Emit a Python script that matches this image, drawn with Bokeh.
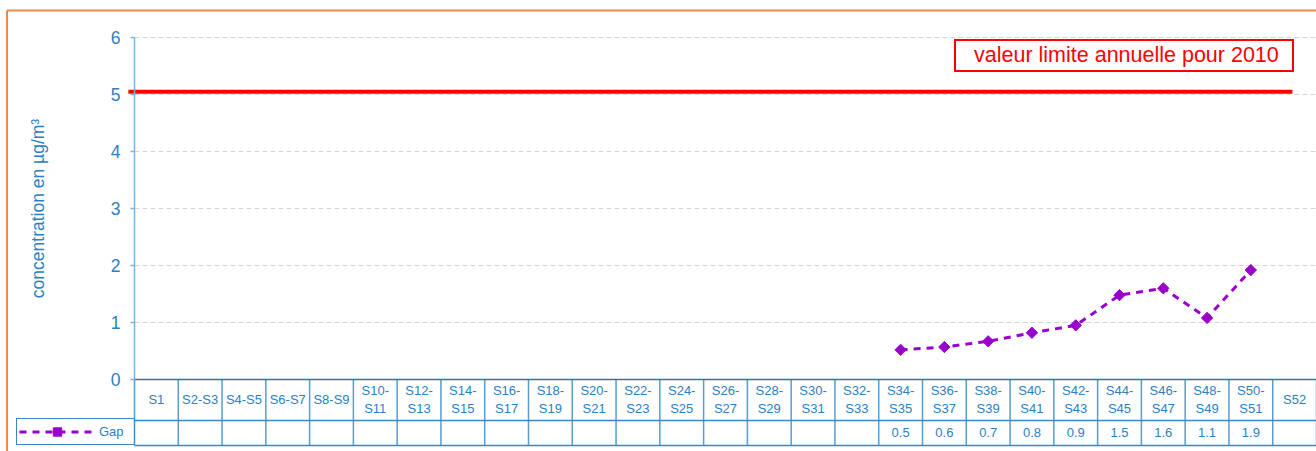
import numpy as np
from bokeh.plotting import figure
from bokeh.models import (Range1d, LinearAxis, FixedTicker, Grid, Legend,
                          LegendItem, ColumnDataSource)
from bokeh.core.properties import value
from bokeh.embed import file_html
from bokeh.resources import INLINE

# ---------------- data ----------------
categories = ["S1", "S2-S3", "S4-S5", "S6-S7", "S8-S9", "S10-S11", "S12-S13",
              "S14-S15", "S16-S17", "S18-S19", "S20-S21", "S22-S23", "S24-S25",
              "S26-S27", "S28-S29", "S30-S31", "S32-S33", "S34-S35", "S36-S37",
              "S38-S39", "S40-S41", "S42-S43", "S44-S45", "S46-S47", "S48-S49",
              "S50-S51", "S52"]
gap_categories = ["S34-S35", "S36-S37", "S38-S39", "S40-S41", "S42-S43",
                  "S44-S45", "S46-S47", "S48-S49", "S50-S51"]
gap_values = [0.52, 0.57, 0.67, 0.82, 0.95, 1.48, 1.60, 1.08, 1.92]
gap_table_labels = ["0.5", "0.6", "0.7", "0.8", "0.9", "1.5", "1.6", "1.1", "1.9"]
y_ticks = [0, 1, 2, 3, 4, 5, 6]
limit_value = 5.05
limit_label = "valeur limite annuelle pour 2010"
series_name = "Gap"
y_axis_title = "concentration en µg/m³"

# ---------------- layout constants ----------------
FONT = "Liberation Sans"
BLUE_TXT = "#2B7FC2"
W_PX, H_PX = 1316, 451
N = len(categories)
AX_PX = 134                      # canvas x of value axis
CELL = (W_PX - AX_PX) / N        # px per category
ZERO_PX = 379                    # canvas y of value 0
UNIT = 57                        # px per unit


def xd(px):
    return (px - AX_PX) / CELL


def yd(py):
    return (ZERO_PX - py) / UNIT


p = figure(width=W_PX, height=H_PX, output_backend="svg", toolbar_location=None,
           x_range=Range1d(xd(0), xd(W_PX)), y_range=Range1d(yd(H_PX), yd(0)),
           x_axis_location=None, y_axis_location=None,
           min_border_left=0, min_border_right=0, min_border_top=0,
           min_border_bottom=0)
p.outline_line_color = None
p.background_fill_color = "white"
p.border_fill_color = "white"
# drop default grids
p.center = [r for r in p.center if not isinstance(r, Grid)]

ticker = FixedTicker(ticks=y_ticks)

# grid
grid = Grid(dimension=1, ticker=ticker, grid_line_color="#D6D6D6",
            grid_line_dash="5 3", grid_line_width=1, cross_bounds=(0, N))
p.add_layout(grid)

# orange chart border
p.line(x=[xd(6.5), xd(6.5)], y=[yd(H_PX), yd(10)], line_color="#EE8A45",
       line_width=2)
p.line(x=[xd(6.5), xd(W_PX)], y=[yd(10), yd(10)], line_color="#EE8A45",
       line_width=2)

# data table (below the plot area)
row1_bottom = yd(420)
table_bottom = yd(445)
xs = np.arange(N + 1)
p.segment(x0=xs, y0=[table_bottom] * len(xs), x1=xs, y1=[0] * len(xs),
          line_color="#5A9BD0", line_width=1.5)
p.segment(x0=[0, 0], y0=[row1_bottom, table_bottom], x1=[N, N],
          y1=[row1_bottom, table_bottom], line_color="#3C86C4", line_width=1.5)
p.segment(x0=[0], y0=[0], x1=[N], y1=[0], line_color="#2F75B5", line_width=1.5)

cat_x = np.arange(N) + 0.5
cat_text = [c.replace("-", "-\n") if len(c) > 5 else c for c in categories]
p.text(x=cat_x, y=[yd(399)] * N, text=cat_text, text_align="center",
       text_baseline="middle", text_font=value(FONT), text_font_size="13px",
       text_color=BLUE_TXT, text_line_height=1.25)

gap_x = [categories.index(c) + 0.5 for c in gap_categories]
p.text(x=gap_x, y=[yd(432)] * len(gap_x), text=gap_table_labels,
       text_align="center", text_baseline="middle", text_font=value(FONT),
       text_font_size="13px", text_color=BLUE_TXT)

# limit line
limit_r = p.line(x=[-0.14, 26.45], y=[limit_value, limit_value],
                 line_color="#FF0000", line_width=4)

# Gap series
src = ColumnDataSource(dict(x=gap_x, y=gap_values))
gap_line = p.line("x", "y", source=src, line_color="#9900CC", line_width=3,
                  line_dash="7 6")
gap_pts = p.scatter("x", "y", source=src, marker="square", size=8,
                    angle=np.pi / 4, fill_color="#9900CC", line_color="#9900CC")

# value axis
yaxis = LinearAxis(ticker=ticker, fixed_location=0, bounds=(0, 6),
                   axis_label=y_axis_title)
yaxis.axis_line_color = "#7FB2D9"
yaxis.axis_line_width = 1.5
yaxis.major_tick_line_color = "#7FB2D9"
yaxis.major_tick_line_width = 1.5
yaxis.major_tick_out = 4
yaxis.major_tick_in = 0
yaxis.minor_tick_line_color = None
yaxis.major_label_standoff = 10
yaxis.major_label_text_font = FONT
yaxis.major_label_text_font_size = "17.5px"
yaxis.major_label_text_color = BLUE_TXT
yaxis.axis_label_text_font = FONT
yaxis.axis_label_text_font_size = "17.5px"
yaxis.axis_label_text_font_style = "normal"
yaxis.axis_label_text_color = BLUE_TXT
yaxis.axis_label_standoff = 60
p.add_layout(yaxis, "left")

# legend box for the limit
leg_limit = Legend(items=[LegendItem(label=limit_label, renderers=[limit_r])],
                   location=(954, H_PX - 72), glyph_width=0, glyph_height=20,
                   label_standoff=16, label_width=316, label_height=20,
                   padding=2, label_text_font=FONT,
                   label_text_font_size="21.5px", label_text_color="#FF0000",
                   border_line_color="#FF0000", border_line_width=2,
                   border_line_alpha=1,
                   background_fill_color="white", background_fill_alpha=1)
p.add_layout(leg_limit)

# legend cell in the data table
leg_gap = Legend(items=[LegendItem(label=series_name,
                                   renderers=[gap_line, gap_pts])],
                 location=(16, H_PX - 445), glyph_width=76, glyph_height=21,
                 label_standoff=4, label_width=33, label_height=21, padding=2,
                 label_text_font=FONT, label_text_font_size="13px",
                 label_text_color=BLUE_TXT, border_line_color="#3C86C4",
                 border_line_width=1.5, border_line_alpha=1,
                 background_fill_alpha=0)
p.add_layout(leg_gap)

open("out.html", "w").write(file_html(p, INLINE))
